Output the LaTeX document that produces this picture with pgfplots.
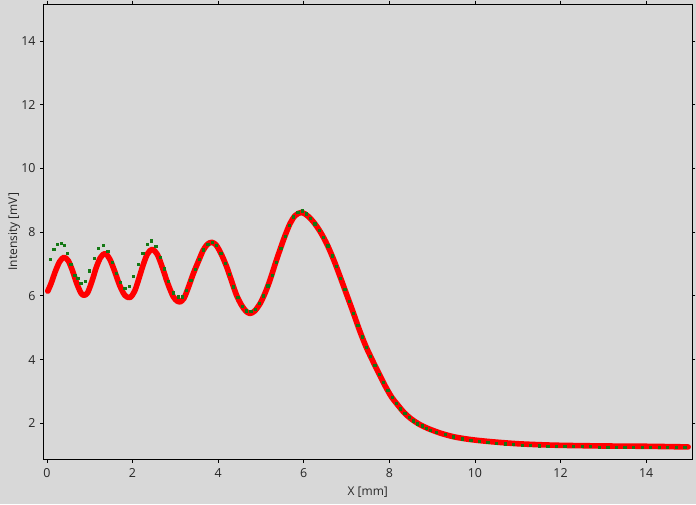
\documentclass[border=0pt]{standalone}
\usepackage{pgfplots}
\pgfplotsset{compat=1.18}
\usepackage{fontspec}
\setmainfont{Open Sans}
\definecolor{bg}{RGB}{216,216,216}
\definecolor{rline}{RGB}{255,0,0}
\definecolor{gpts}{RGB}{20,120,20}
\begin{document}
\begin{tikzpicture}
\fill[bg] (-32.6pt,-33.75pt) rectangle (489pt,344.25pt);
\begin{axis}[
  at={(0,0)}, anchor=south west,
  scale only axis, width=486pt, height=341.25pt,
  xmin=-0.08, xmax=15.07, ymin=0.87, ymax=15.16,
  xtick={0,2,...,14}, ytick={2,4,...,14},
  tick align=outside, major tick length=2.5pt,
  tick style={black, line width=0.6pt},
  axis line style={black, line width=0.75pt},
  axis background/.style={fill=bg},
  /pgf/number format/assume math mode=true,
  tick label style={font=\fontsize{9.3}{11}\selectfont, text=black!85},
  label style={font=\fontsize{9}{11}\selectfont, text=black!85},
  xlabel={X [mm]}, ylabel={Intensity [mV]},
  xlabel style={at={(axis description cs:0.5,-0.0725)}, anchor=center},
  ylabel style={at={(axis description cs:-0.0453,0.5)}, anchor=center},
  xticklabel style={yshift=-1pt},
  clip=true,
]
\addplot[only marks, mark=square*, mark size=0.85pt, color=gpts] coordinates {
(0.07,7.14) (0.16,7.46) (0.25,7.62) (0.33,7.65) (0.40,7.60) (0.47,7.33) (0.56,7.00) (0.65,6.65) (0.72,6.55) (0.79,6.39)
(0.89,6.47) (0.99,6.79) (1.11,7.17) (1.20,7.49) (1.32,7.59) (1.42,7.41) (1.52,7.05) (1.62,6.70) (1.72,6.42) (1.82,6.23)
(1.92,6.30) (2.02,6.62) (2.13,7.00) (2.24,7.33) (2.35,7.62) (2.43,7.73) (2.54,7.56) (2.64,7.22) (2.74,6.85) (2.84,6.45)
(2.96,6.10) (3.07,5.97) (3.17,5.97) (3.26,6.18) (3.36,6.50) (3.46,6.83) (3.56,7.15) (3.66,7.45) (3.76,7.63) (3.86,7.68)
(3.96,7.59) (4.06,7.34) (4.16,7.03) (4.26,6.67) (4.36,6.29) (4.46,5.95) (4.56,5.68) (4.66,5.53) (4.76,5.52) (4.86,5.58)
(4.96,5.76) (5.06,6.00) (5.16,6.32) (5.26,6.65) (5.36,7.06) (5.46,7.50) (5.56,7.88) (5.66,8.22) (5.76,8.48) (5.86,8.63)
(5.96,8.67) (6.06,8.58) (6.16,8.43) (6.26,8.26) (6.36,8.06) (6.46,7.84) (6.56,7.57) (6.66,7.26) (6.76,6.92) (6.86,6.56)
(6.96,6.20) (7.06,5.83) (7.16,5.46) (7.26,5.08) (7.36,4.72) (7.46,4.39) (7.56,4.10) (7.66,3.82) (7.76,3.55) (7.86,3.29)
(7.96,3.04) (8.06,2.82) (8.16,2.63) (8.26,2.46) (8.36,2.32) (8.46,2.18) (8.56,2.08) (8.66,1.99) (8.76,1.92) (8.86,1.85)
(8.96,1.79) (9.10,1.73) (9.30,1.65) (9.50,1.58) (9.70,1.52) (9.90,1.47) (10.10,1.43) (10.30,1.40) (10.50,1.38) (10.70,1.36)
(10.90,1.34) (11.10,1.32) (11.30,1.31) (11.50,1.30) (11.70,1.29) (11.90,1.28) (12.10,1.27) (12.30,1.27) (12.50,1.27) (12.70,1.27)
(12.90,1.26) (13.10,1.26) (13.30,1.26) (13.50,1.26) (13.70,1.25) (13.90,1.25) (14.10,1.25) (14.30,1.25) (14.50,1.24) (14.70,1.24)
(14.90,1.24)
};
\addplot[smooth, color=rline, line width=4.2pt, line cap=round, line join=round] coordinates {
(0.02,6.15) (0.10,6.40) (0.20,6.78) (0.30,7.08) (0.40,7.21) (0.50,7.10) (0.60,6.78) (0.70,6.38) (0.80,6.08) (0.87,6.02)
(0.95,6.10) (1.05,6.45) (1.15,6.88) (1.25,7.20) (1.36,7.33) (1.47,7.15) (1.58,6.78) (1.70,6.33) (1.82,6.02) (1.94,5.95)
(2.05,6.15) (2.15,6.55) (2.25,6.98) (2.35,7.32) (2.46,7.46) (2.58,7.30) (2.70,6.88) (2.82,6.40) (2.95,5.98) (3.05,5.83)
(3.11,5.81) (3.20,5.92) (3.30,6.25) (3.42,6.70) (3.55,7.12) (3.65,7.43) (3.75,7.62) (3.85,7.68) (3.95,7.60) (4.07,7.32)
(4.20,6.91) (4.30,6.52) (4.43,6.02) (4.55,5.70) (4.65,5.52) (4.74,5.45) (4.85,5.52) (4.98,5.76) (5.10,6.10) (5.21,6.49)
(5.32,6.95) (5.44,7.43) (5.56,7.88) (5.68,8.27) (5.80,8.52) (5.95,8.62) (6.10,8.50) (6.25,8.28) (6.40,7.98) (6.55,7.60)
(6.70,7.13) (6.85,6.60) (7.00,6.05) (7.15,5.50) (7.30,4.93) (7.45,4.42) (7.60,3.99) (7.75,3.58) (7.90,3.18) (8.05,2.83)
(8.20,2.57) (8.35,2.33) (8.50,2.15) (8.70,1.97) (8.90,1.84) (9.20,1.69) (9.50,1.58) (9.80,1.51) (10.10,1.46) (10.50,1.41)
(11.00,1.36) (11.50,1.33) (12.00,1.31) (13.00,1.29) (14.00,1.28) (14.98,1.26)
};
\end{axis}
\end{tikzpicture}
\end{document}
